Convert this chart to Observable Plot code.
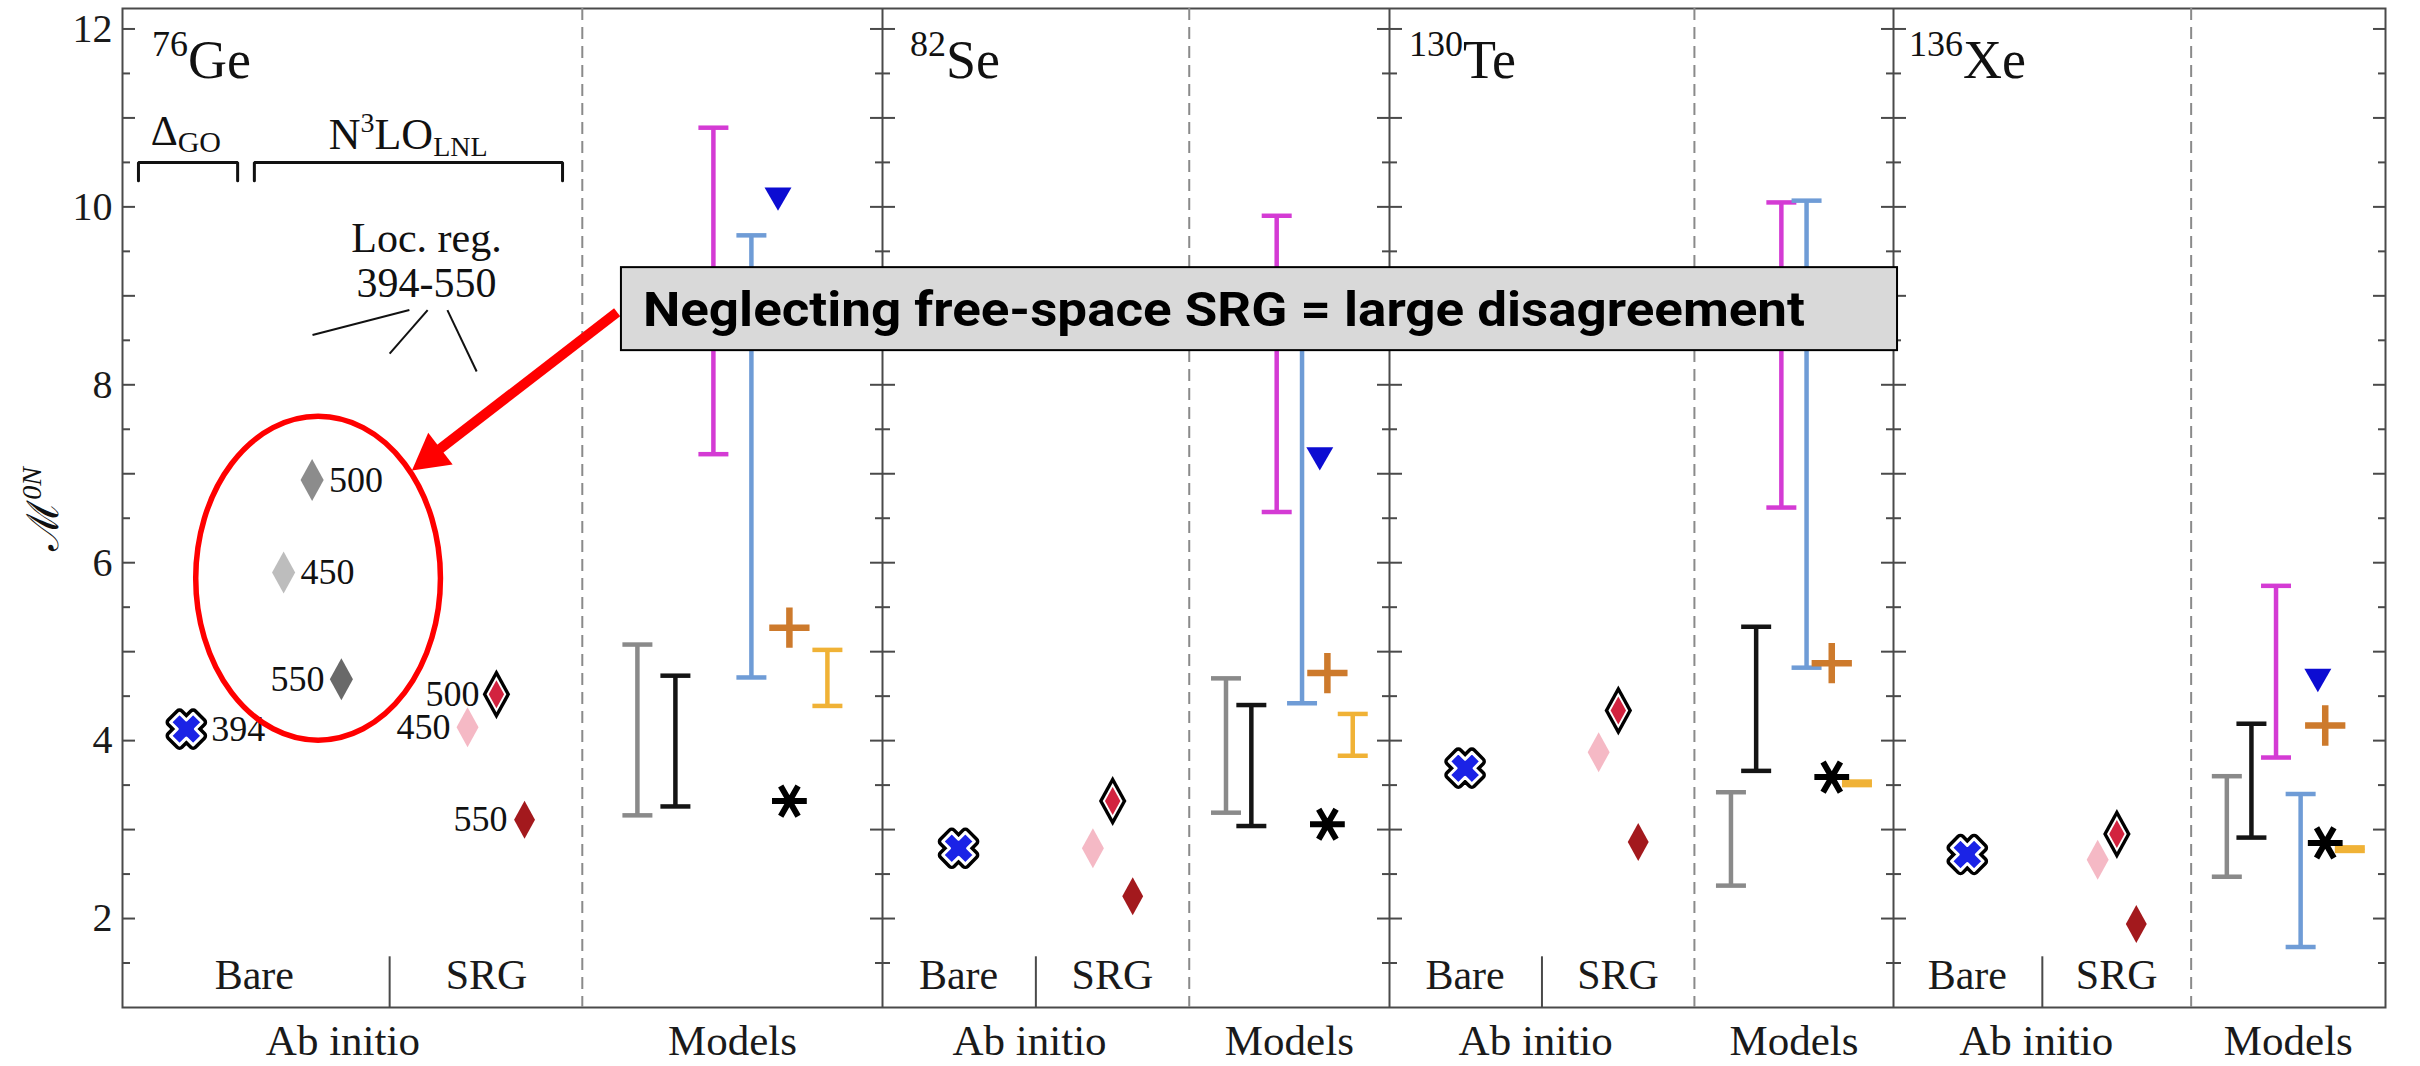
<!DOCTYPE html>
<html>
<head>
<meta charset="utf-8">
<script src="https://cdn.jsdelivr.net/npm/d3@7"></script>
<script src="https://cdn.jsdelivr.net/npm/@observablehq/plot@0.6"></script>
<style>
  body { margin: 0; background: #fff; }
  #wrap { position: relative; width: 2420px; height: 1066px; display: flex; align-items: flex-start; overflow: hidden; }
  #wrap > svg { flex: none; }
  #overlay { position: absolute; left: 0; top: 0; pointer-events: none; }
</style>
</head>
<body>
<div id="wrap"></div>
<script>
// ---------------- DATA ----------------
const isotopeMass   = ["76", "82", "130", "136"];
const isotopeSymbol = ["Ge", "Se", "Te", "Xe"];

// Ab initio, bare, Delta_GO (394 MeV)
const bareDeltaGO = [4.13, 2.79, 3.69, 2.72];
// Ab initio, bare, N3LO_LNL local regulators (76Ge only)
const bareN3LOCutoffs = ["450", "500", "550"];
const bareN3LOGe      = [5.89, 6.93, 4.69];
// Ab initio, SRG-evolved N3LO_LNL
const srgCutoffs = ["450", "500", "550"];
const srg450 = [4.15, 2.79, 3.87, 2.66];
const srg500 = [4.52, 3.32, 4.34, 2.95];
const srg550 = [3.11, 2.25, 2.86, 1.94];

// Models: ranges
const grayLo    = [3.16, 3.19, 2.37, 2.47];
const grayHi    = [5.08, 4.70, 3.42, 3.60];
const blackLo   = [3.26, 3.04, 3.66, 2.91];
const blackHi   = [4.73, 4.40, 5.28, 4.19];
const magentaLo = [7.22, 6.57, 6.62, 3.81];
const magentaHi = [10.89, 9.90, 10.05, 5.74];
const blueLo    = [4.71, 4.42, 4.82, 1.68];
const blueHi    = [9.68, 8.90, 10.07, 3.40];
const yellowLo  = [4.39, 3.83, 3.50, 2.76];
const yellowHi  = [5.02, 4.30, 3.54, 2.80];
// Models: single values
const triangleM = [10.13, 7.21, null, 4.72];
const plusM     = [5.27, 4.76, 4.87, 4.17];
const asteriskM = [3.32, 3.06, 3.59, 2.85];

// Axis ticks
const yLabelTicks = [2, 4, 6, 8, 10, 12];
const majorTicks  = [2, 3, 4, 5, 6, 7, 8, 9, 10, 11, 12];
const minorTicks  = [1.5, 2.5, 3.5, 4.5, 5.5, 6.5, 7.5, 8.5, 9.5, 10.5, 11.5];
const groupLabels = ["Ab initio", "Models"];
const subLabels   = ["Bare", "SRG"];
const annotationText = "Neglecting free-space SRG = large disagreement";

// ---------------- LAYOUT (slot positions in each panel, x in [0, 20]) ----------------
const panelInnerWidth = [760, 507, 504, 492];
const layoutGe  = { cross: 1.68, bare: [4.24, 4.99, 5.76], sep: 7.03, srg: [9.08, 9.84, 10.58], bareLabel: 3.47, srgLabel: 9.58, iso: 0.79 };
const layoutStd = [null,
  { cross: 3.0, sep: 6.05, srg: [8.30, 9.08, 9.87], bareLabel: 3.0, srgLabel: 9.07, iso: 1.10 },
  { cross: 3.0, sep: 6.05, srg: [8.30, 9.08, 9.87], bareLabel: 3.0, srgLabel: 9.07, iso: 0.79 },
  { cross: 3.0, sep: 6.05, srg: [8.30, 9.08, 9.87], bareLabel: 3.0, srgLabel: 9.07, iso: 0.65 }];
const modelBase = 13.55;
const modelSlot = { gray: 0, black: 1, magenta: 2, blue: 3, triangle: 3.7, plus: 4, asterisk: 4, yellow: 5 };
const dashedX = 12.1;
const groupCenters = [5.8, 16.05];

const colors = {
  frame: "#4a4a4a", dashed: "#8a8a8a",
  gray: "#8a8a8a", black: "#141414", magenta: "#d43bd4", blue: "#6f9cd6", yellow: "#f0b236",
  triangle: "#0c0cd2", plus: "#cd7a2c", asterisk: "#000",
  cross: "#1b23e6", srg450: "#f5b9c5", srg500: "#d2233f", srg550: "#a3191d",
  bare450: "#bdbdbd", bare500: "#8c8c8c", bare550: "#696969", red: "#ff0000"
};
const serif = "'Liberation Serif', 'Times New Roman', serif";

// ---------------- custom symbols ----------------
const hcap = { draw(ctx, size) { const r = Math.sqrt(size / Math.PI); ctx.moveTo(-r, 0); ctx.lineTo(r, 0); } };
const tallDiamond = { draw(ctx, size) {
  const r = Math.sqrt(size / Math.PI), w = 0.55 * r;
  ctx.moveTo(0, -r); ctx.lineTo(w, 0); ctx.lineTo(0, r); ctx.lineTo(-w, 0); ctx.closePath();
} };
const fatX = { draw(ctx, size) {
  const r = Math.sqrt(size / Math.PI), e = r, w = 0.40 * r, c = Math.SQRT1_2;
  const pts = [[-w,-e],[w,-e],[w,-w],[e,-w],[e,w],[w,w],[w,e],[-w,e],[-w,w],[-e,w],[-e,-w],[-w,-w]]
    .map(([x, y]) => [(x - y) * c, (x + y) * c]);
  ctx.moveTo(pts[0][0], pts[0][1]);
  for (const p of pts.slice(1)) ctx.lineTo(p[0], p[1]);
  ctx.closePath();
} };

function tickAxes() {
  const common = { tickFormat: () => "", label: null, stroke: colors.frame, strokeWidth: 2 };
  return [
    Plot.axisY({ anchor: "left",  ticks: majorTicks, tickSize: 13, dx: 13,  ...common }),
    Plot.axisY({ anchor: "left",  ticks: minorTicks, tickSize: 8,  dx: 8,   ...common }),
    Plot.axisY({ anchor: "right", ticks: majorTicks, tickSize: 13, dx: -13, ...common }),
    Plot.axisY({ anchor: "right", ticks: minorTicks, tickSize: 8,  dx: -8,  ...common })
  ];
}

function buildPanel(i) {
  const isGe = i === 0;
  const L = isGe ? layoutGe : layoutStd[i];
  const ml = isGe ? 122 : 0;
  const mr = i === 3 ? 35 : 0;
  const width = ml + panelInnerWidth[i] + mr;

  const ranges = [
    { x: modelBase + modelSlot.gray,    lo: grayLo[i],    hi: grayHi[i],    c: colors.gray },
    { x: modelBase + modelSlot.black,   lo: blackLo[i],   hi: blackHi[i],   c: colors.black },
    { x: modelBase + modelSlot.magenta, lo: magentaLo[i], hi: magentaHi[i], c: colors.magenta },
    { x: modelBase + modelSlot.blue,    lo: blueLo[i],    hi: blueHi[i],    c: colors.blue },
    { x: modelBase + modelSlot.yellow,  lo: yellowLo[i],  hi: yellowHi[i],  c: colors.yellow }
  ];
  const caps = ranges.flatMap(d => [{ x: d.x, y: d.lo, c: d.c }, { x: d.x, y: d.hi, c: d.c }]);
  const tri  = triangleM[i] == null ? [] : [{ x: modelBase + modelSlot.triangle, y: triangleM[i] }];
  const plus = [{ x: modelBase + modelSlot.plus, y: plusM[i] }];
  const ast  = [{ x: modelBase + modelSlot.asterisk, y: asteriskM[i] }];
  const cross = [{ x: L.cross, y: bareDeltaGO[i] }];
  const s450 = [{ x: L.srg[0], y: srg450[i] }];
  const s500 = [{ x: L.srg[1], y: srg500[i] }];
  const s550 = [{ x: L.srg[2], y: srg550[i] }];

  const marks = [
    Plot.frame({ stroke: colors.frame, strokeWidth: 2 }),
    ...tickAxes(),
    Plot.axisX({ anchor: "bottom", ticks: groupCenters, tickFormat: d => d < dashedX ? groupLabels[0] : groupLabels[1],
                 tickSize: 0, tickPadding: 17, fontSize: 43, label: null, fill: "#1a1a1a" }),
    Plot.ruleX([dashedX], { stroke: colors.dashed, strokeWidth: 2, strokeDasharray: "12,7" }),
    Plot.ruleX([L.sep], { y1: () => 1, y2: () => 1.57, stroke: colors.frame, strokeWidth: 2 }),
    Plot.text([{ x: L.bareLabel, t: subLabels[0] }, { x: L.srgLabel, t: subLabels[1] }],
              { x: "x", y: () => 1.36, text: "t", fontSize: 42, fill: "#1a1a1a" }),
    // model ranges
    Plot.ruleX(ranges, { x: "x", y1: "lo", y2: "hi", stroke: "c", strokeWidth: 4.5 }),
    Plot.dot(caps, { x: "x", y: "y", symbol: hcap, r: 15, stroke: "c", fill: "none", strokeWidth: 4.5 }),
    Plot.dot(tri, { x: "x", y: "y", symbol: "triangle", r: 10, fill: colors.triangle, rotate: 180 }),
    Plot.dot(plus, { x: "x", y: "y", symbol: "plus", r: 13, stroke: colors.plus, strokeWidth: 6.5 }),
    Plot.dot(ast, { x: "x", y: "y", symbol: "asterisk", r: 16.5, stroke: colors.asterisk, strokeWidth: 6, rotate: 90 }),
    // ab initio
    Plot.dot(cross, { x: "x", y: "y", symbol: fatX, r: 16, fill: "#000", stroke: "#000", strokeWidth: 10, strokeLinejoin: "round" }),
    Plot.dot(cross, { x: "x", y: "y", symbol: fatX, r: 16, fill: colors.cross, stroke: "#fff", strokeWidth: 3, strokeLinejoin: "round" }),
    Plot.dot(s450, { x: "x", y: "y", symbol: tallDiamond, r: 20, fill: colors.srg450 }),
    Plot.dot(s550, { x: "x", y: "y", symbol: tallDiamond, r: 19, fill: colors.srg550 }),
    Plot.dot(s500, { x: "x", y: "y", symbol: tallDiamond, r: 25, fill: "#000" }),
    Plot.dot(s500, { x: "x", y: "y", symbol: tallDiamond, r: 18, fill: "#fff" }),
    Plot.dot(s500, { x: "x", y: "y", symbol: tallDiamond, r: 14, fill: colors.srg500 })
  ];

  if (isGe) {
    const bareFill = [colors.bare450, colors.bare500, colors.bare550];
    const bare = bareN3LOCutoffs.map((t, k) => ({ x: L.bare[k], y: bareN3LOGe[k], t, c: bareFill[k] }));
    const bareRight = bare.filter(d => d.t !== "550");
    const bareLeft = bare.filter(d => d.t === "550");
    const srgLab = srgCutoffs.map((t, k) => ({ x: L.srg[k], y: [srg450, srg500, srg550][k][0], t }));
    marks.push(
      Plot.axisY({ anchor: "left", ticks: yLabelTicks, tickSize: 0, tickPadding: 10, fontSize: 40, label: null, fill: "#1a1a1a" }),
      Plot.dot(bare, { x: "x", y: "y", symbol: tallDiamond, r: 21, fill: "c" }),
      Plot.text(bareRight, { x: "x", y: "y", text: "t", textAnchor: "start", dx: 17, fontSize: 36, fill: "#111" }),
      Plot.text(bareLeft, { x: "x", y: "y", text: "t", textAnchor: "end", dx: -17, fontSize: 36, fill: "#111" }),
      Plot.text(srgLab, { x: "x", y: "y", text: "t", textAnchor: "end", dx: -17, fontSize: 36, fill: "#111" }),
      Plot.text(cross, { x: "x", y: "y", text: () => "394", textAnchor: "start", dx: 25, fontSize: 36, fill: "#111" }),
      // brackets
      Plot.line([
        { b: "d", x: 0.42, y: 10.295 }, { b: "d", x: 0.42, y: 10.50 }, { b: "d", x: 3.03, y: 10.50 }, { b: "d", x: 3.03, y: 10.295 },
        { b: "n", x: 3.47, y: 10.295 }, { b: "n", x: 3.47, y: 10.50 }, { b: "n", x: 11.58, y: 10.50 }, { b: "n", x: 11.58, y: 10.295 }
      ], { x: "x", y: "y", z: "b", stroke: "#111", strokeWidth: 3, strokeLinejoin: "miter" }),
      Plot.text([{ x: 8.0, y: 9.64, t: "Loc. reg." }, { x: 8.0, y: 9.14, t: "394-550" }],
                { x: "x", y: "y", text: "t", fontSize: 42, fill: "#111" }),
      Plot.link([
        { x1: 7.55, y1: 8.84, x2: 5.00, y2: 8.56 },
        { x1: 8.03, y1: 8.84, x2: 7.03, y2: 8.35 },
        { x1: 8.55, y1: 8.84, x2: 9.32, y2: 8.15 }
      ], { x1: "x1", y1: "y1", x2: "x2", y2: "y2", stroke: "#111", strokeWidth: 2 })
    );
  }

  const svg = Plot.plot({
    width, height: 1066,
    marginLeft: ml, marginRight: mr, marginTop: 8, marginBottom: 59,
    x: { domain: [0, 20], label: null },
    y: { domain: [1, 12.23], label: null },
    color: { type: "identity" },
    style: { fontFamily: serif, background: "white", maxWidth: "none", overflow: "hidden", color: "#111" },
    marks
  });

  const xs = svg.scale("x"), ys = svg.scale("y");
  const g = d3.select(svg);

  // isotope label
  const iso = g.append("text").attr("x", xs.apply(L.iso)).attr("y", ys.apply(11.44))
    .attr("text-anchor", "start").attr("font-family", serif).attr("fill", "#111");
  iso.append("tspan").attr("font-size", 36).attr("dy", -22).text(isotopeMass[i]);
  iso.append("tspan").attr("font-size", 54).attr("dy", 22).text(isotopeSymbol[i]);

  if (isGe) {
    const dg = g.append("text").attr("x", xs.apply(1.68)).attr("y", ys.apply(10.69))
      .attr("text-anchor", "middle").attr("font-family", serif).attr("fill", "#111");
    dg.append("tspan").attr("font-size", 42).text("Δ");
    dg.append("tspan").attr("font-size", 30).attr("dy", 7).text("GO");

    const n3 = g.append("text").attr("x", xs.apply(7.53)).attr("y", ys.apply(10.65))
      .attr("text-anchor", "middle").attr("font-family", serif).attr("fill", "#111");
    n3.append("tspan").attr("font-size", 44).text("N");
    n3.append("tspan").attr("font-size", 28).attr("dy", -17).text("3");
    n3.append("tspan").attr("font-size", 44).attr("dy", 17).text("LO");
    n3.append("tspan").attr("font-size", 28).attr("dy", 7).text("LNL");

    // y-axis title
    const yt = g.append("text")
      .attr("transform", `translate(${ml - 64},${ys.apply(6.6)}) rotate(-90)`)
      .attr("text-anchor", "middle").attr("fill", "#111");
    yt.append("tspan").attr("font-family", "'DejaVu Serif', serif").attr("font-size", 44).text("ℳ");
    yt.append("tspan").attr("font-family", serif).attr("font-style", "italic").attr("font-size", 28).attr("dy", -17).text("0N");

    // red ellipse around bare N3LO points
    const ell = { x: 5.16, y: 5.82, rx: 3.22, ry: 1.82 };
    const cx = xs.apply(ell.x), cy = ys.apply(ell.y);
    g.append("ellipse").attr("cx", cx).attr("cy", cy)
      .attr("rx", xs.apply(ell.x + ell.rx) - cx).attr("ry", ys.apply(ell.y - ell.ry) - cy)
      .attr("fill", "none").attr("stroke", colors.red).attr("stroke-width", 5.5);

    // red arrow from the annotation box to the ellipse
    const tail = [xs.apply(13.03), ys.apply(8.81)], tip = [xs.apply(7.63), ys.apply(7.03)];
    const dxv = tip[0] - tail[0], dyv = tip[1] - tail[1], len = Math.hypot(dxv, dyv);
    const u = [dxv / len, dyv / len], n = [-u[1], u[0]];
    const headL = 36, headW = 40;
    const base = [tip[0] - u[0] * headL, tip[1] - u[1] * headL];
    g.append("line").attr("x1", tail[0]).attr("y1", tail[1]).attr("x2", base[0] + u[0] * 4).attr("y2", base[1] + u[1] * 4)
      .attr("stroke", colors.red).attr("stroke-width", 10);
    g.append("path").attr("d",
      `M${tip[0]},${tip[1]}L${base[0] + n[0] * headW / 2},${base[1] + n[1] * headW / 2}L${base[0] - n[0] * headW / 2},${base[1] - n[1] * headW / 2}Z`)
      .attr("fill", colors.red);
  }
  return svg;
}

const wrap = document.getElementById("wrap");
const panels = [0, 1, 2, 3].map(buildPanel);
panels.forEach(p => wrap.appendChild(p));

// annotation box overlay (spans three panels)
const p1 = panels[0], p3 = panels[2];
const offset3 = +panels[0].getAttribute("width") + +panels[1].getAttribute("width");
const bx1 = p1.scale("x").apply(13.13);
const bx2 = offset3 + p3.scale("x").apply(20.16);
const by1 = p1.scale("y").apply(9.317);
const by2 = p1.scale("y").apply(8.384);
const ov = d3.create("svg").attr("id", "overlay").attr("width", 2420).attr("height", 1066);
ov.append("rect").attr("x", bx1).attr("y", by1).attr("width", bx2 - bx1).attr("height", by2 - by1)
  .attr("fill", "#d9d9d9").attr("stroke", "#000").attr("stroke-width", 2);
const fs = 48;
ov.append("text").attr("x", bx1 + 22).attr("y", (by1 + by2) / 2 + fs * 0.711 / 2)
  .attr("font-family", "Roboto, 'Open Sans', sans-serif").attr("font-weight", 700).attr("font-size", fs)
  .attr("fill", "#000").attr("textLength", 1162).attr("lengthAdjust", "spacingAndGlyphs")
  .text(annotationText);
wrap.appendChild(ov.node());
</script>
</body>
</html>
